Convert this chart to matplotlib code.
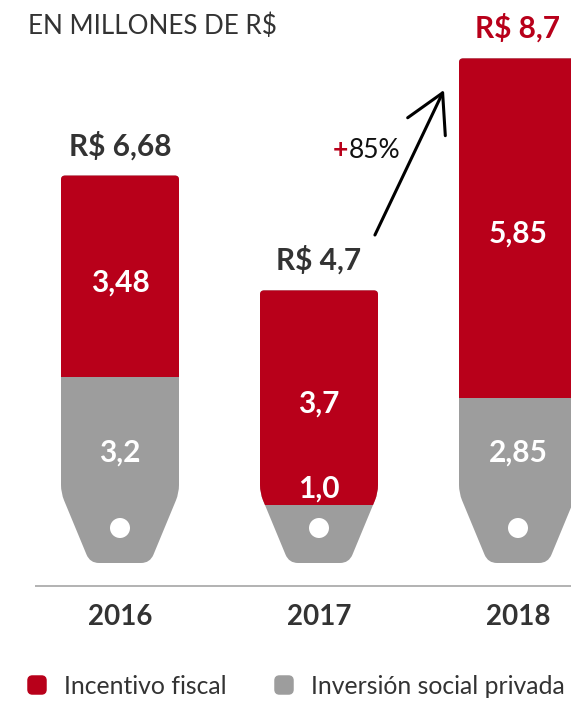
import matplotlib
matplotlib.use("Agg")
import matplotlib.pyplot as plt
from matplotlib.path import Path
from matplotlib.patches import PathPatch, Rectangle, Ellipse, FancyBboxPatch
import numpy as np

# ---- data (millions of R$) ----
years = ["2016", "2017", "2018"]
incentivo = [3.48, 3.7, 5.85]          # Incentivo fiscal
inversion = [3.2, 1.0, 2.85]           # Inversión social privada
growth_text = "85%"
title_text = "EN MILLONES DE R$"
legend_labels = ["Incentivo fiscal", "Inversión social privada"]

RED = "#B8001A"
GRAY = "#9D9D9D"
DARK = "#333333"
FONT = "Lato"

W_PX, H_PX, DPI = 571, 704, 100
fig = plt.figure(figsize=(W_PX / DPI, H_PX / DPI), dpi=DPI)
ax = fig.add_axes([0, 0, 1, 1])

# pixel layout: first category centre, spacing, value origin and scale
x0_px, sx = 120, 199
y0_px, sy = 563, 58
ax.set_xlim(-x0_px / sx, (W_PX - x0_px) / sx)
ax.set_ylim(-(H_PX - y0_px) / sy, y0_px / sy)
ax.axis("off")


def fmt(v):
    s = f"{v:.2f}"
    if s.endswith("0"):
        s = s[:-1]
    return s.replace(".", ",")


def tag_path(xc, total):
    """Price-tag outline (pixel geometry) mapped to data coordinates."""
    W, w, ht = 59, 30, 70
    rb, rt, rtop = 9, 8, 4
    H = total * sy
    L = np.hypot(W - w, ht)
    ux, uy = (W - w) / L, ht / L
    pts = [(0, 0), (w - rb, 0), (w, 0), (w + rb * ux, rb * uy),
           (W - rt * ux, ht - rt * uy), (W, ht), (W, ht + rt),
           (W, H - rtop), (W, H), (W - rtop, H),
           (-W + rtop, H), (-W, H), (-W, H - rtop),
           (-W, ht + rt), (-W, ht), (-W + rt * ux, ht - rt * uy),
           (-w - rb * ux, rb * uy), (-w, 0), (-w + rb, 0), (0, 0)]
    M, Ln, C = Path.MOVETO, Path.LINETO, Path.CURVE3
    codes = [M, Ln, C, C, Ln, C, C, Ln, C, C, Ln, C, C, Ln, C, C, Ln, C, C,
             Path.CLOSEPOLY]
    verts = [(xc + px / sx, py / sy) for px, py in pts]
    return Path(verts, codes)


for i, (yr, red, gray) in enumerate(zip(years, incentivo, inversion)):
    total = round(red + gray, 2)
    path = tag_path(i, total)
    ax.add_patch(PathPatch(path, facecolor=GRAY, edgecolor="none", zorder=2))
    red_patch = PathPatch(path, facecolor=RED, edgecolor="none", zorder=3)
    ax.add_patch(red_patch)
    clip = Rectangle((i - 1, gray), 2, red + 1, transform=ax.transData)
    red_patch.set_clip_path(clip)
    # hole of the tag
    ax.add_patch(Ellipse((i, 35 / sy), 20 / sx, 20 / sy, facecolor="white",
                         edgecolor="none", zorder=4))

    # value labels
    ax.text(i, gray + red / 2 - 0.1, fmt(red), color="white", fontsize=21.5,
            fontweight="bold", family=FONT, ha="center", va="center", zorder=5)
    gy = 1.91 if gray >= 2 else gray + 0.29
    ax.text(i, gy, fmt(gray), color="white", fontsize=21.5, fontweight="bold",
            family=FONT, ha="center", va="center", zorder=5)
    top_col = RED if i == len(years) - 1 else DARK
    ax.text(i, total + 0.52, "R$ " + fmt(total), color=top_col, fontsize=21.5,
            fontweight="bold", family=FONT, ha="center", va="center", zorder=5)
    ax.text(i, -0.93, yr, color=DARK, fontsize=20, fontweight="bold",
            family=FONT, ha="center", va="center", zorder=5)

# baseline
ax.plot([(35 - x0_px) / sx, (W_PX - x0_px) / sx], [-0.397, -0.397],
        color="#A5A5A5", lw=1.2, solid_capstyle="butt", zorder=1)

# growth arrow
ax.annotate("", xy=(1.628, 8.155), xytext=(1.281, 5.655),
            arrowprops=dict(arrowstyle="->,head_length=2.7,head_width=1.5",
                            lw=2.2, color="black", mutation_scale=10,
                            shrinkA=0, shrinkB=0), zorder=6)
t85 = ax.text(1.407, 7.12, growth_text, color="#111111", fontsize=19,
              family=FONT, fontweight="normal", ha="right", va="center")
ax.annotate("+", xy=(0, 0.5), xycoords=t85, xytext=(-0.5, 0),
            textcoords="offset points", color=RED, fontsize=19,
            fontweight="bold", family=FONT, ha="right", va="center")

# title
fig.text(28 / W_PX, 1 - 26 / H_PX, title_text, color=DARK, fontsize=18.7,
         family=FONT, fontweight="normal", ha="left", va="center")

# legend
for (lx, tx), col, lab in zip([(27, 64), (274, 311)], [RED, GRAY], legend_labels):
    fig.patches.append(FancyBboxPatch(
        ((lx + 2) / W_PX, 1 - (695 - 2) / H_PX), 16 / W_PX, 16 / H_PX,
        boxstyle="round,pad=0,rounding_size=0.006", transform=fig.transFigure,
        facecolor=col, edgecolor=col, lw=2.5, mutation_aspect=W_PX / H_PX))
    fig.text(tx / W_PX, 1 - 687 / H_PX, lab, color=DARK, fontsize=17.8,
             family=FONT, fontweight="normal", ha="left", va="center")

fig.savefig("out.png", dpi=DPI)
